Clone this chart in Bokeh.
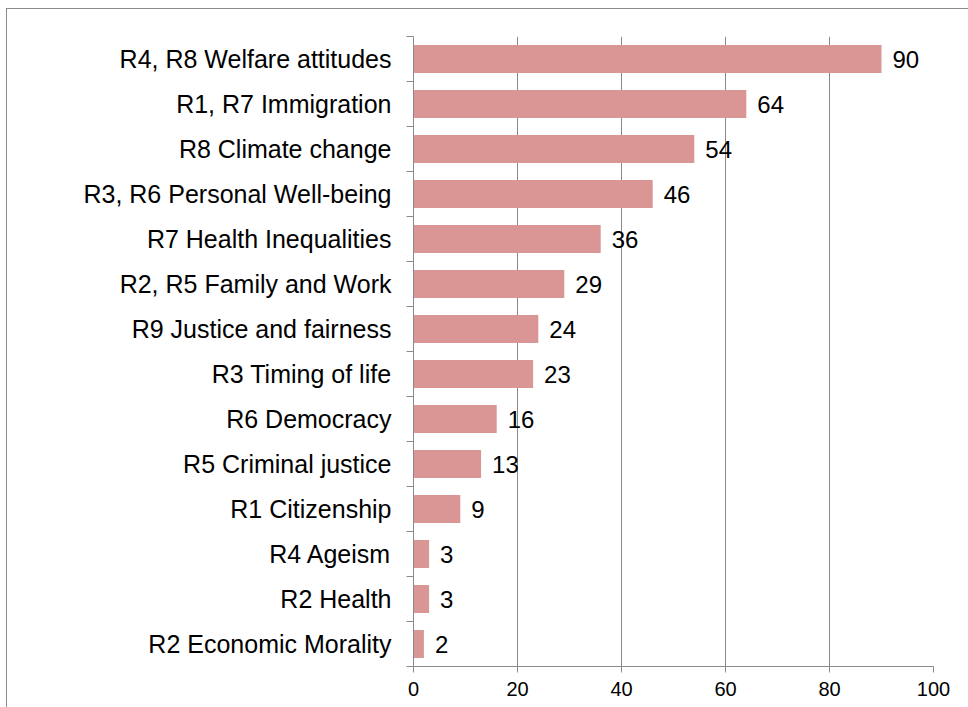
from bokeh.plotting import figure
from bokeh.models import Range1d, FixedTicker, ColumnDataSource
from bokeh.embed import file_html
from bokeh.resources import INLINE
from bokeh.core.properties import value

categories = [
    "R4, R8 Welfare attitudes",
    "R1, R7 Immigration",
    "R8 Climate change",
    "R3, R6 Personal Well-being",
    "R7 Health Inequalities",
    "R2, R5 Family and Work",
    "R9 Justice and fairness",
    "R3 Timing of life",
    "R6 Democracy",
    "R5 Criminal justice",
    "R1 Citizenship",
    "R4 Ageism",
    "R2 Health",
    "R2 Economic Morality",
]
counts = [90, 64, 54, 46, 36, 29, 24, 23, 16, 13, 9, 3, 3, 2]
x_ticks = [0, 20, 40, 60, 80, 100]

n = len(categories)
ypos = [n - 1 - i for i in range(n)]
src = ColumnDataSource(dict(y=ypos, v=counts, lab=[str(c) for c in counts], cat=categories))

FONT = "Liberation Sans"
GRID = "#8a8a8a"

p = figure(width=968, height=707, output_backend="svg", toolbar_location=None,
           x_range=Range1d(0, 100), y_range=Range1d(-0.5, n - 0.5),
           min_border_left=413, min_border_right=35, min_border_top=36, min_border_bottom=41,
           outline_line_color=None, background_fill_color="white", border_fill_color=None,
           styles={"box-shadow": "inset 6px 8px 0 0 white, inset 7px 9px 0 0 #8c8c8c"})

p.hbar(y="y", right="v", left=0, height=0.62, source=src, fill_color="#D99694", line_color=None)
p.text(x="v", y="y", text="lab", source=src, x_offset=11, text_baseline="middle",
       text_font=value(FONT), text_font_size="24px", text_color="#000000")

# x axis
p.xaxis.ticker = FixedTicker(ticks=x_ticks)
p.xaxis.axis_line_color = GRID
p.xaxis.major_tick_line_color = GRID
p.xaxis.major_tick_out = 6
p.xaxis.major_tick_in = 0
p.xaxis.minor_tick_line_color = None
p.xaxis.major_label_text_font = FONT
p.xaxis.major_label_text_font_size = "20px"
p.xaxis.major_label_text_color = "#000000"
p.xaxis.major_label_standoff = 9

# y axis
p.yaxis.ticker = FixedTicker(ticks=ypos, minor_ticks=[k - 0.5 for k in range(n + 1)])
p.yaxis.major_label_overrides = {int(y): c for y, c in zip(ypos, categories)}
p.yaxis.axis_line_color = GRID
p.yaxis.major_tick_line_color = None
p.yaxis.minor_tick_line_color = GRID
p.yaxis.minor_tick_out = 7
p.yaxis.minor_tick_in = 0
p.yaxis.major_label_text_font = FONT
p.yaxis.major_label_text_font_size = "25px"
p.yaxis.major_label_text_color = "#000000"
p.yaxis.major_label_standoff = 15

# grid
p.xgrid.ticker = FixedTicker(ticks=x_ticks[1:])
p.xgrid.grid_line_color = GRID
p.xgrid.grid_line_width = 1
p.ygrid.grid_line_color = None

open("out.html", "w").write(file_html(p, INLINE))
